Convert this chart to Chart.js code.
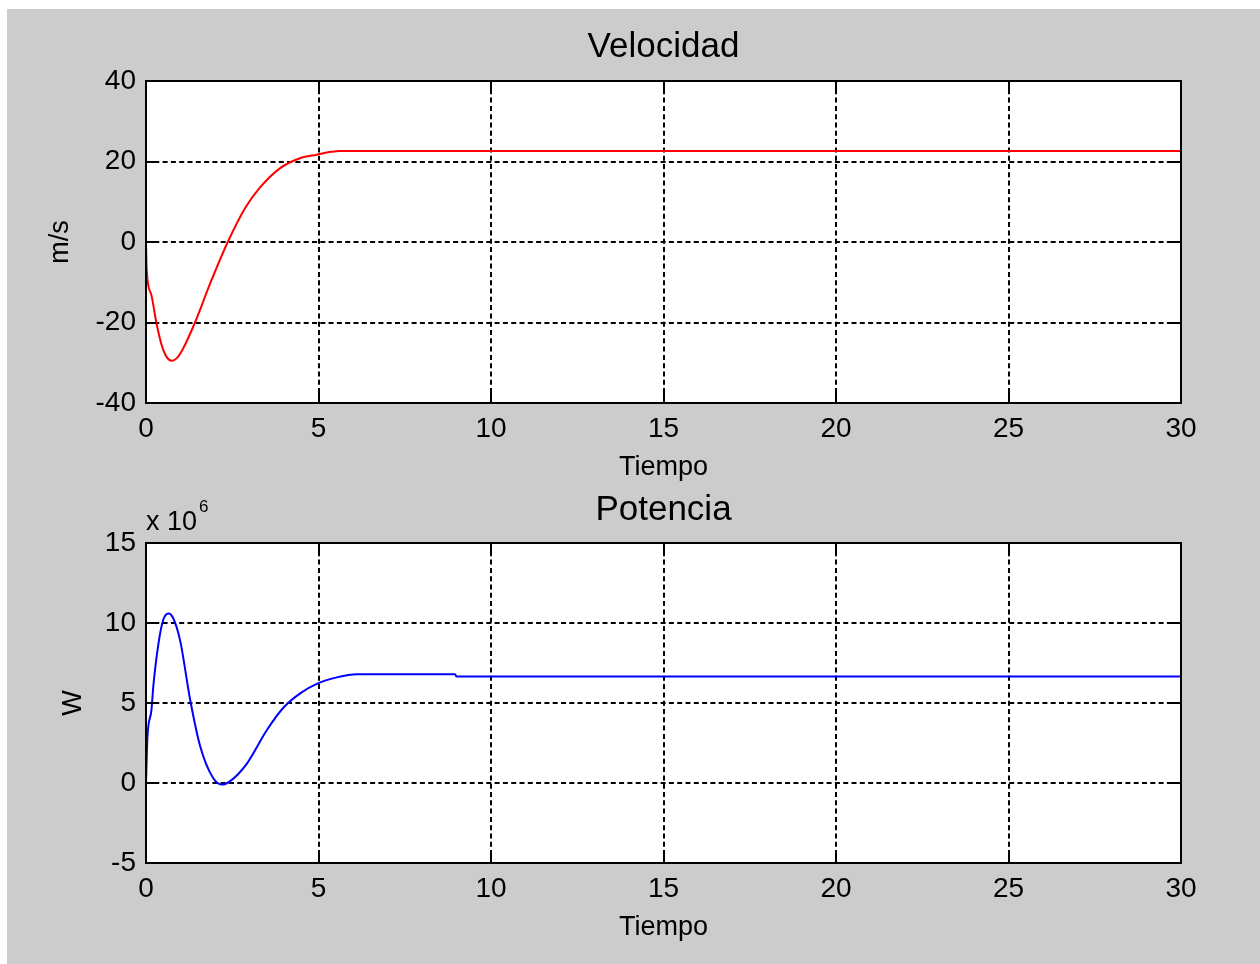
<!DOCTYPE html>
<html>
<head>
<meta charset="utf-8">
<script src="https://cdn.jsdelivr.net/npm/chart.js@4/dist/chart.umd.min.js"></script>
<style>
  html, body { margin: 0; padding: 0; background: #fff; }
  #fig { position: absolute; left: 7px; top: 9px; width: 1253px; height: 955px; background: #cccccc; }
  canvas { position: absolute; left: 0; }
</style>
</head>
<body>
<div id="fig"></div>
<canvas id="velocidad" width="1260" height="482" style="top:0"></canvas>
<canvas id="potencia" width="1260" height="482" style="top:482px"></canvas>
<script>
// datos
const tiempoV = [0, 0.02, 0.15, 0.3, 0.45, 0.6, 0.75, 0.9, 1.08, 1.42, 1.86, 2.37, 2.87, 3.3, 3.88, 4.46, 4.95, 5.38, 5.6, 30];
const velocidad = [0, -7, -13, -20, -25.5, -28.6, -29.5, -28.8, -26.4, -20, -10.3, 0, 8.4, 13.5, 18.3, 20.8, 21.7, 22.4, 22.6, 22.6];

const tiempoP = [0, 0.02, 0.04, 0.16, 0.21, 0.36, 0.5, 0.65, 0.79, 0.99, 1.28, 1.57, 1.95, 2.22, 2.43, 2.92, 3.5, 4.0, 4.5, 4.95, 5.53, 6.11, 8.96, 9.0, 30];
const potencia = [0, 1.5, 2.8, 4.6, 6.0, 8.7, 10.2, 10.6, 10.3, 8.9, 5.2, 2.3, 0.3, -0.1, 0.1, 1.2, 3.3, 4.75, 5.65, 6.2, 6.6, 6.8, 6.8, 6.65, 6.65]; // x 10^6 W

const xTicks = [0, 5, 10, 15, 20, 25, 30];
const yTicksV = [-40, -20, 0, 20, 40];
const yTicksP = [-5, 0, 5, 10, 15];

const FONT = '"Liberation Sans", Arial, sans-serif';

// caja, marcas interiores y textos al estilo matlab
const matlabAxes = {
  id: 'matlabAxes',
  beforeDraw(chart) {
    const { ctx, chartArea: a } = chart;
    ctx.save();
    ctx.fillStyle = '#fff';
    ctx.fillRect(a.left, a.top, a.right - a.left, a.bottom - a.top);
    ctx.restore();
  },
  afterDraw(chart, args, opts) {
    const { ctx, chartArea: a, scales } = chart;
    ctx.save();
    ctx.strokeStyle = '#000';
    ctx.lineWidth = 2;
    const seg = (x1, y1, x2, y2) => { ctx.beginPath(); ctx.moveTo(x1, y1); ctx.lineTo(x2, y2); ctx.stroke(); };
    scales.x.ticks.forEach(t => {
      const px = Math.round(scales.x.getPixelForValue(t.value));
      seg(px, a.top, px, a.top + 10);
      seg(px, a.bottom, px, a.bottom - 10);
    });
    scales.y.ticks.forEach(t => {
      const py = Math.round(scales.y.getPixelForValue(t.value));
      seg(a.left, py, a.left + 10, py);
      seg(a.right, py, a.right - 10, py);
    });
    ctx.strokeRect(a.left, a.top, a.right - a.left, a.bottom - a.top);

    const cx = (a.left + a.right) / 2;
    ctx.fillStyle = '#000';
    ctx.textAlign = 'center';
    ctx.textBaseline = 'alphabetic';
    ctx.font = '35px ' + FONT;
    ctx.fillText(opts.title, cx, opts.titleY);
    ctx.font = '27px ' + FONT;
    ctx.fillText(opts.xlabel, cx, opts.xlabelY);

    ctx.save();
    ctx.translate(opts.ylabelX, (a.top + a.bottom) / 2);
    ctx.rotate(-Math.PI / 2);
    ctx.fillText(opts.ylabel, 0, 0);
    ctx.restore();

    if (opts.exponent) {
      ctx.textAlign = 'left';
      ctx.font = '27px ' + FONT;
      ctx.fillText('x 10', a.left, a.top - 13);
      ctx.font = '17px ' + FONT;
      ctx.fillText(opts.exponent, a.left + 53, a.top - 31);
    }
    ctx.restore();
  }
};

const makeChart = (id, xs, ys, color, yTicks, padTop, padBottom, labels) => {
  return new Chart(document.getElementById(id), {
    type: 'line',
    data: {
      datasets: [{
        data: xs.map((t, i) => ({ x: t, y: ys[i] })),
        borderColor: color,
        borderWidth: 2,
        pointRadius: 0,
        fill: false,
        cubicInterpolationMode: 'monotone'
      }]
    },
    options: {
      responsive: false,
      animation: false,
      layout: { padding: { left: 0, right: 79, top: padTop, bottom: padBottom } },
      plugins: {
        legend: { display: false },
        tooltip: { enabled: false },
        matlabAxes: labels
      },
      scales: {
        x: {
          type: 'linear',
          min: 0,
          max: 30,
          afterBuildTicks: scale => { scale.ticks = xTicks.map(v => ({ value: v })); },
          afterFit: scale => { scale.height = 40; },
          ticks: { color: '#000', font: { family: FONT, size: 28 }, padding: 9, maxRotation: 0 },
          grid: { color: '#000', lineWidth: 2, drawTicks: false },
          border: { display: false, dash: [5, 3.3] }
        },
        y: {
          min: yTicks[0],
          max: yTicks[yTicks.length - 1],
          afterBuildTicks: scale => { scale.ticks = yTicks.map(v => ({ value: v })); },
          afterFit: scale => { scale.width = 146; },
          ticks: { color: '#000', font: { family: FONT, size: 28 }, padding: 10 },
          grid: { color: '#000', lineWidth: 2, drawTicks: false },
          border: { display: false, dash: [5, 3.3] }
        }
      }
    },
    plugins: [matlabAxes]
  });
};

makeChart('velocidad', tiempoV, velocidad, '#ff0000', yTicksV, 81, 39,
  { title: 'Velocidad', titleY: 57, xlabel: 'Tiempo', xlabelY: 475, ylabel: 'm/s', ylabelX: 68 });
makeChart('potencia', tiempoP, potencia, '#0000ff', yTicksP, 61, 61,
  { title: 'Potencia', titleY: 38, xlabel: 'Tiempo', xlabelY: 453, ylabel: 'W', ylabelX: 81, exponent: '6' });
</script>
</body>
</html>
